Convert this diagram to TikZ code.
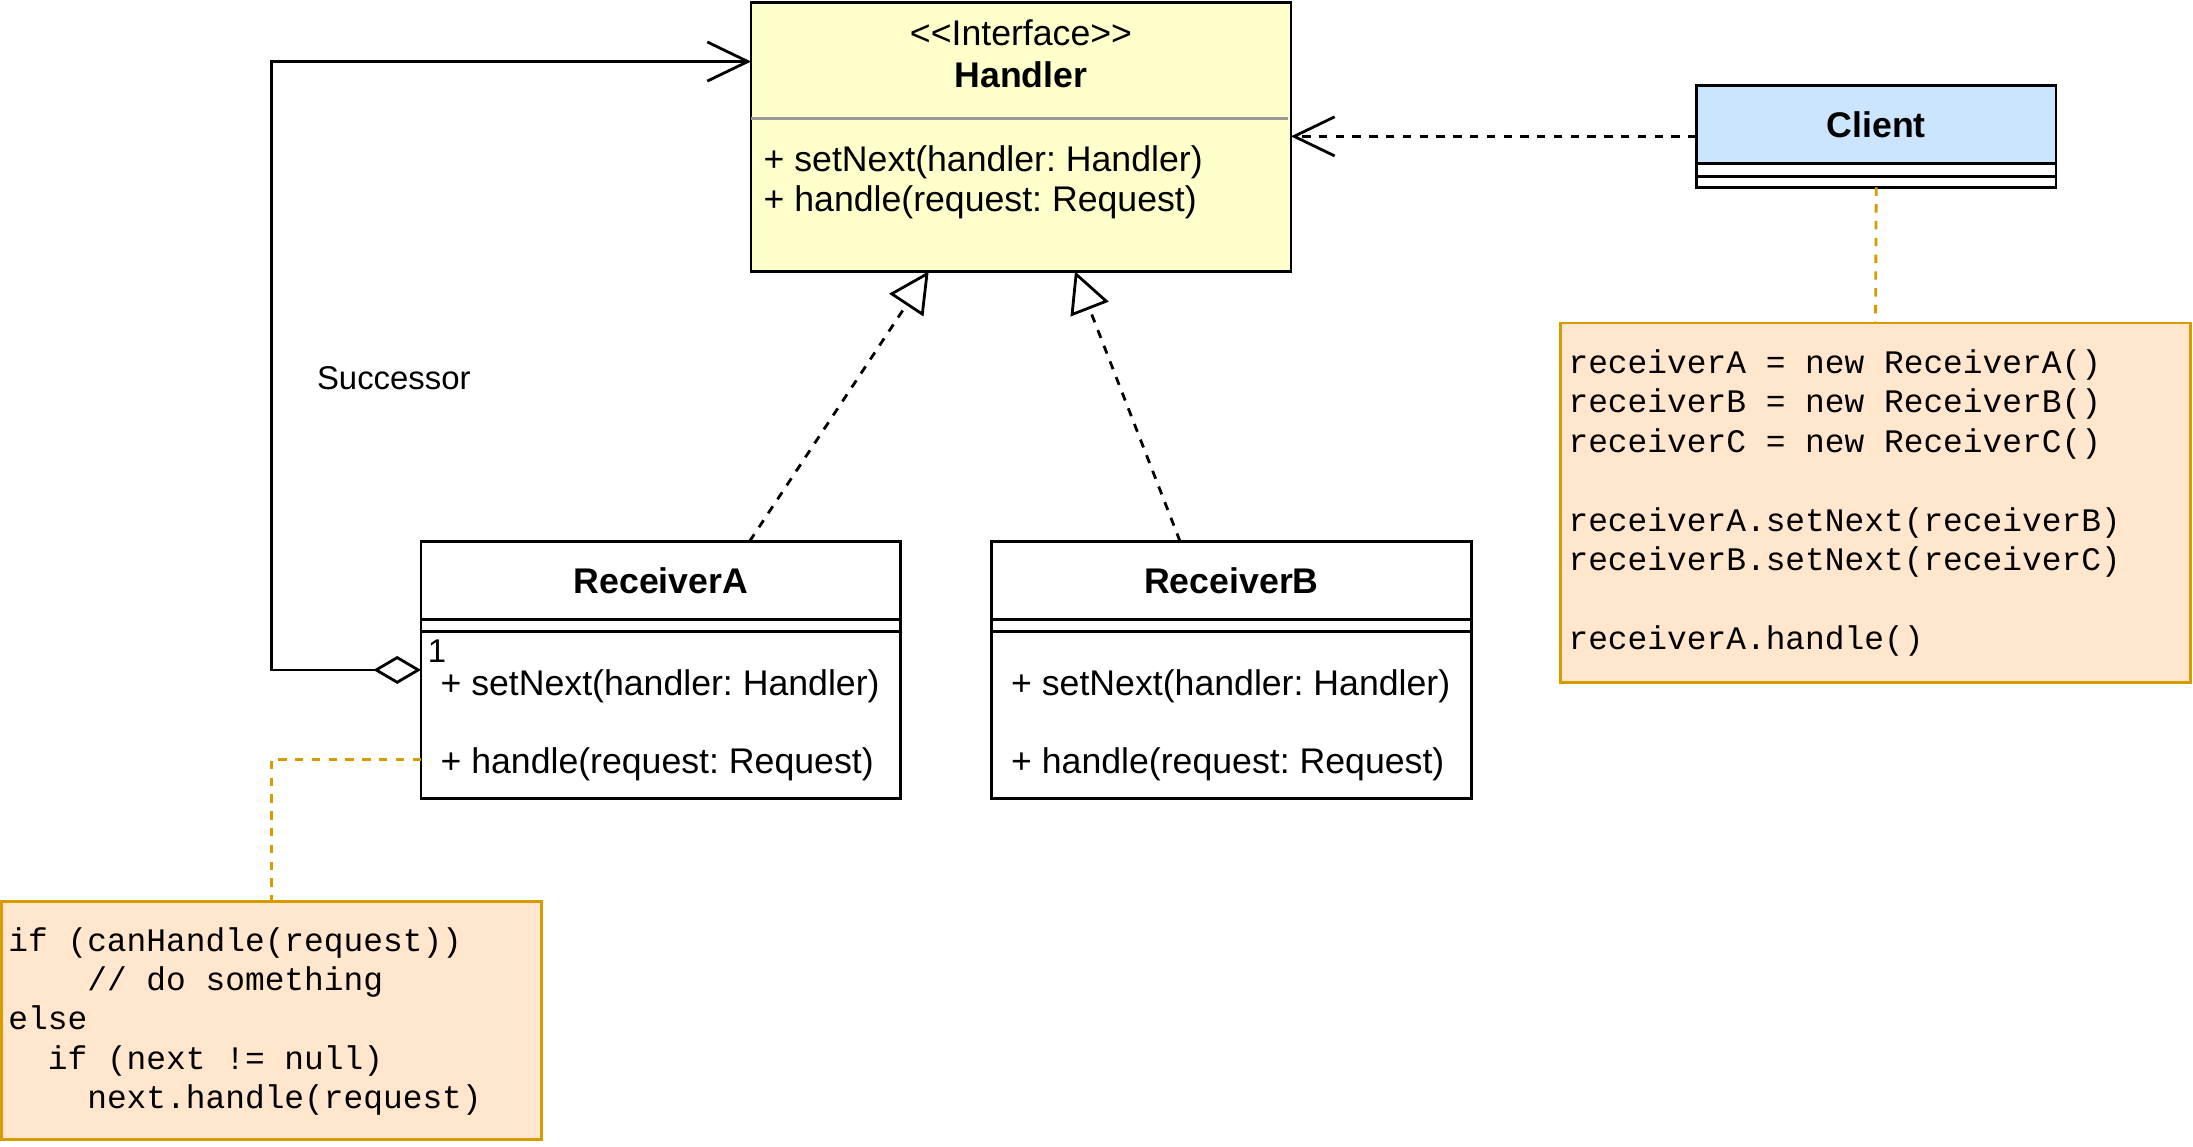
\documentclass[tikz,border=0pt]{standalone}
\usepackage{fontspec}
\setmainfont{Liberation Sans}
\newfontfamily\codefont{Liberation Mono}
\usetikzlibrary{arrows.meta,calc}
\frenchspacing

\definecolor{handlerfill}{RGB}{255,255,204}
\definecolor{clientfill}{RGB}{204,229,255}
\definecolor{notefill}{RGB}{255,230,204}
\definecolor{notedraw}{RGB}{215,155,0}
\definecolor{rulegray}{RGB}{153,153,153}

\tikzset{every picture/.style={line width=1pt}}
\tikzset{
  classbox/.style={draw=black, fill=white, rectangle, anchor=north west, inner sep=0pt, outer sep=0pt},
  notebox/.style={draw=notedraw, fill=notefill, rectangle, anchor=north west, inner sep=0pt, outer sep=0pt},
  labeltext/.style={inner sep=0pt, font=\fontsize{12.75pt}{15.3pt}\selectfont},
  smalltext/.style={inner sep=0pt, font=\fontsize{11.75pt}{14.1pt}\selectfont},
  codetext/.style={inner sep=0pt, anchor=base west, font=\codefont\fontsize{11.75pt}{14.1pt}\selectfont},
  depend/.style={dash pattern=on 3pt off 3pt, -{Straight Barb[length=14.5pt,width=14pt]}},
  realize/.style={dash pattern=on 3pt off 3pt, -{Triangle[length=14.5pt,width=14.5pt,fill=white]}},
  notelink/.style={draw=notedraw, dash pattern=on 3pt off 3pt},
}

\begin{document}
\begin{tikzpicture}[x=0.5pt,y=0.5pt,yscale=-1,xscale=1]
\useasboundingbox (0,0) rectangle (1568,819.4);

%Shape: Class [id:handler]
\draw (537,2) node [classbox, fill=handlerfill, minimum width=193pt, minimum height=96pt] (handler) {};
\draw [rulegray] ([yshift=41.3pt]handler.north west) -- ([yshift=41.3pt,xshift=-1pt]handler.north east);
%Shape: Class [id:client]
\draw (1213,61) node [classbox, minimum width=128.5pt, minimum height=36.5pt] (client) {};
\filldraw [fill=clientfill] (client.north west) rectangle ([yshift=28pt]client.north east);
\draw ([yshift=32.5pt]client.north west) -- ([yshift=32.5pt]client.north east);
%Shape: Class [id:receiverA]
\draw (301,387) node [classbox, minimum width=171.5pt, minimum height=92pt] (ra) {};
\draw ([yshift=28pt]ra.north west) -- ([yshift=28pt]ra.north east);
\draw ([yshift=32.25pt]ra.north west) -- ([yshift=32.25pt]ra.north east);
%Shape: Class [id:receiverB]
\draw (709,387) node [classbox, minimum width=171.5pt, minimum height=92pt] (rb) {};
\draw ([yshift=28pt]rb.north west) -- ([yshift=28pt]rb.north east);
\draw ([yshift=32.25pt]rb.north west) -- ([yshift=32.25pt]rb.north east);
%Shape: Note [id:clientnote]
\draw (1116,231) node [notebox, minimum width=225pt, minimum height=128.5pt] (rnote) {};
%Shape: Note [id:handlenote]
\draw (1,644.5) node [notebox, minimum width=193pt, minimum height=85.25pt] (lnote) {};

%Connectors
\draw [depend] (client.west) -- (client.west -| handler.east);
\draw [realize] ([xshift=31.75pt]ra.north) -- ([xshift=-33pt]handler.south);
\draw [realize] ([xshift=-18.4pt]rb.north) -- ([xshift=19.3pt]handler.south);
\coordinate (succbend) at (194,44);
\draw [{Diamond[length=17pt,width=10pt,fill=white]}-{Straight Barb[length=14.5pt,width=14pt]}] (ra.west) -| (succbend) -- (succbend -| handler.west);
\draw [notelink] (client.south) -- (rnote.north);
\draw [notelink] ([yshift=32pt]ra.west) -| (lnote.north);

% Text Node
\draw (730,32.2) node [labeltext, anchor=base] (hstereo) {<\kern0pt<Interface>\kern0pt>};
% Text Node
\draw (730,62.4) node [labeltext, anchor=base] (hname) {\bfseries Handler};
% Text Node
\draw (545,122.7) node [labeltext, anchor=base west] (hset) {+ setNext(handler: Handler)};
% Text Node
\draw (545,151.4) node [labeltext, anchor=base west] (hhandle) {+ handle(request: Request)};
% Text Node
\draw (1341.5,98.6) node [labeltext, anchor=base] (cname) {\bfseries Client};
% Text Node
\draw (472.5,424.7) node [labeltext, anchor=base] (raname) {\bfseries ReceiverA};
% Text Node
\draw (314,497) node [labeltext, anchor=base west] (raset) {+ setNext(handler: Handler)};
% Text Node
\draw (314,553) node [labeltext, anchor=base west] (rahandle) {+ handle(request: Request)};
% Text Node
\draw (880.5,424.7) node [labeltext, anchor=base] (rbname) {\bfseries ReceiverB};
% Text Node
\draw (722,497) node [labeltext, anchor=base west] (rbset) {+ setNext(handler: Handler)};
% Text Node
\draw (722,553) node [labeltext, anchor=base west] (rbhandle) {+ handle(request: Request)};
% Text Node
\draw (305,473.8) node [smalltext, anchor=base west] (mult) {1};
% Text Node
\draw (225.7,278.3) node [smalltext, anchor=base west] (succ) {Successor};

% Text Node
\draw (1120.5,267) node [codetext] (rcodeA) {receiverA = new ReceiverA()};
% Text Node
\draw (1120.5,295.2) node [codetext] (rcodeB) {receiverB = new ReceiverB()};
% Text Node
\draw (1120.5,323.4) node [codetext] (rcodeC) {receiverC = new ReceiverC()};
% Text Node
\draw (1120.5,379.8) node [codetext] (rcodeD) {receiverA.setNext(receiverB)};
% Text Node
\draw (1120.5,408) node [codetext] (rcodeE) {receiverB.setNext(receiverC)};
% Text Node
\draw (1120.5,464.4) node [codetext] (rcodeF) {receiverA.handle()};

% Text Node
\draw (5,680) node [codetext] (lcodeA) {if (canHandle(request))};
% Text Node
\draw (5,708.2) node [codetext] (lcodeB) {\phantom{xxxx}// do something};
% Text Node
\draw (5,736.4) node [codetext] (lcodeC) {else};
% Text Node
\draw (5,764.6) node [codetext] (lcodeD) {\phantom{xx}if (next != null)};
% Text Node
\draw (5,792.8) node [codetext] (lcodeE) {\phantom{xxxx}next.handle(request)};

\end{tikzpicture}
\end{document}
